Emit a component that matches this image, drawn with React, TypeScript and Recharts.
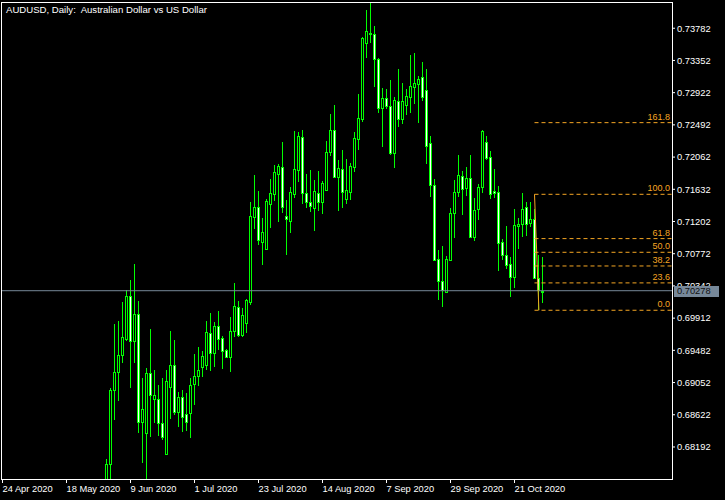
import React from 'react';
import { ComposedChart, Bar, XAxis, YAxis, ReferenceLine } from 'recharts';

// AUDUSD daily candles, bar index counted from 24 Apr 2020
const firstIndex = 26;

const opens = [
  0.6764, 0.67961, 0.68949, 0.69189, 0.69416, 0.69629, 0.70203, 0.69603, 0.69963, 0.68529,
  0.68374, 0.69175, 0.68828, 0.68828, 0.68508, 0.68094, 0.68997, 0.69282, 0.68663, 0.68855,
  0.68628, 0.68641, 0.69029, 0.69135, 0.69256, 0.69282, 0.69709, 0.69451, 0.69803, 0.69643,
  0.69483, 0.69389, 0.69736, 0.70057, 0.69683, 0.69843, 0.70134, 0.71266, 0.71396, 0.70932,
  0.70839, 0.7144, 0.71573, 0.7184, 0.71926, 0.71271, 0.71213, 0.71573, 0.71894, 0.72326,
  0.71578, 0.71458, 0.71386, 0.71578, 0.71466, 0.71627, 0.72126, 0.7242, 0.718, 0.71899,
  0.71506, 0.716, 0.71934, 0.72307, 0.72574, 0.73581, 0.73714, 0.73701, 0.73367, 0.72713,
  0.72847, 0.72748, 0.72121, 0.72807, 0.72566, 0.72753, 0.7286, 0.73002, 0.73034, 0.73127,
  0.72954, 0.72246, 0.71685, 0.70697, 0.70414, 0.70265, 0.70688, 0.71311, 0.716, 0.71805,
  0.71645, 0.71779, 0.70999, 0.71365, 0.71667, 0.72263, 0.72063, 0.71609, 0.71596, 0.70928,
  0.70755, 0.70635, 0.70465, 0.71142, 0.71165, 0.71396, 0.71178, 0.71229, 0.70454, 0.70265,
];
const highs = [
  0.68031, 0.68975, 0.69834, 0.69874, 0.70127, 0.70284, 0.70421, 0.70635, 0.70141, 0.69113,
  0.69246, 0.69767, 0.6922, 0.69019, 0.69113, 0.6922, 0.6974, 0.6962, 0.68926, 0.68953,
  0.68908, 0.69113, 0.69433, 0.69523, 0.69473, 0.69874, 0.6998, 0.6986, 0.70007, 0.69677,
  0.69496, 0.69927, 0.70381, 0.70137, 0.70047, 0.70163, 0.71462, 0.71823, 0.71609, 0.71249,
  0.71502, 0.71769, 0.71956, 0.7197, 0.72263, 0.71489, 0.71659, 0.7241, 0.72397, 0.72424,
  0.71836, 0.7189, 0.71756, 0.71876, 0.71739, 0.72277, 0.72637, 0.72757, 0.72023, 0.72157,
  0.72036, 0.71979, 0.72397, 0.72904, 0.7366, 0.74026, 0.74123, 0.73812, 0.73381, 0.7298,
  0.72967, 0.73091, 0.72868, 0.73238, 0.73047, 0.72975, 0.73425, 0.73451, 0.73144, 0.73331,
  0.73238, 0.72343, 0.71765, 0.70822, 0.70875, 0.70741, 0.71382, 0.71756, 0.72086, 0.71876,
  0.7193, 0.72086, 0.71516, 0.71703, 0.72424, 0.72343, 0.72143, 0.71903, 0.71676, 0.70968,
  0.71142, 0.70728, 0.71369, 0.71249, 0.71582, 0.71462, 0.71462, 0.71369, 0.70751, 0.70728,
];
const lows = [
  0.6755, 0.677, 0.68552, 0.6881, 0.69309, 0.69611, 0.68975, 0.69317, 0.68383, 0.67982,
  0.677, 0.68329, 0.68516, 0.68338, 0.68285, 0.68094, 0.68569, 0.68623, 0.68463, 0.68396,
  0.68409, 0.68316, 0.68756, 0.69006, 0.6913, 0.6922, 0.6921, 0.69264, 0.69487, 0.69229,
  0.69376, 0.69197, 0.69664, 0.69656, 0.69656, 0.69718, 0.70087, 0.71102, 0.70888, 0.70621,
  0.70835, 0.71119, 0.7148, 0.71199, 0.7132, 0.70759, 0.71053, 0.7152, 0.71733, 0.71432,
  0.71386, 0.71333, 0.71079, 0.71346, 0.71306, 0.71613, 0.7208, 0.718, 0.71346, 0.71386,
  0.71436, 0.71489, 0.71867, 0.72157, 0.72534, 0.73389, 0.73581, 0.73002, 0.72646, 0.72201,
  0.727, 0.7209, 0.71912, 0.72468, 0.72504, 0.72624, 0.72655, 0.72771, 0.72521, 0.72811,
  0.71974, 0.71533, 0.70679, 0.70154, 0.70057, 0.70252, 0.70682, 0.70986, 0.71525, 0.71289,
  0.71542, 0.70986, 0.70946, 0.71222, 0.71578, 0.72023, 0.71498, 0.71512, 0.70545, 0.70688,
  0.70568, 0.70198, 0.70318, 0.70839, 0.70999, 0.71012, 0.71133, 0.70444, 0.70017, 0.7011,
];
const closes = [
  0.67961, 0.68949, 0.69189, 0.69416, 0.69656, 0.70203, 0.69603, 0.69963, 0.68529, 0.68695,
  0.69175, 0.68882, 0.68882, 0.68508, 0.68329, 0.69069, 0.69282, 0.68663, 0.68855, 0.68596,
  0.68529, 0.69015, 0.69135, 0.69216, 0.69402, 0.69723, 0.69451, 0.69803, 0.69629, 0.69469,
  0.69389, 0.69736, 0.7007, 0.69683, 0.6995, 0.7015, 0.71275, 0.71396, 0.70959, 0.71058,
  0.71472, 0.71578, 0.71859, 0.71939, 0.714, 0.71231, 0.71592, 0.71899, 0.72339, 0.71587,
  0.71466, 0.71413, 0.71605, 0.71466, 0.71712, 0.72126, 0.7242, 0.718, 0.71912, 0.71592,
  0.71622, 0.71947, 0.72317, 0.7258, 0.73648, 0.73741, 0.73709, 0.73367, 0.72713, 0.72847,
  0.72744, 0.72121, 0.7282, 0.72566, 0.72807, 0.72873, 0.73007, 0.73047, 0.731, 0.72868,
  0.72214, 0.71683, 0.70688, 0.70412, 0.70288, 0.70697, 0.71311, 0.71596, 0.71819, 0.71632,
  0.71779, 0.70999, 0.71356, 0.71659, 0.7241, 0.7205, 0.71573, 0.71578, 0.70919, 0.70755,
  0.70621, 0.70465, 0.71155, 0.71169, 0.71369, 0.71173, 0.71235, 0.70452, 0.70294, 0.70278,
];

const dateTicks = [0, 16, 32, 48, 64, 80, 96, 112, 128];
const dateLabels = [
  '24 Apr 2020', '18 May 2020', '9 Jun 2020', '1 Jul 2020', '23 Jul 2020',
  '14 Aug 2020', '7 Sep 2020', '29 Sep 2020', '21 Oct 2020',
];
const priceTicks = [
  0.68192, 0.68622, 0.69052, 0.69482, 0.69912, 0.70342, 0.70772,
  0.71202, 0.71632, 0.72062, 0.72492, 0.72922, 0.73352, 0.73782,
];
const lastPrice = 0.70278;

const fibRatios = [0, 23.6, 38.2, 50, 61.8, 100, 161.8];
const fibLow = 0.70017;
const fibHigh = 0.71565;
const fibFrom = 133;
const fibTo = 134.1;

const xMin = -0.375;
const xMax = 167.375;
const yMin = 0.677644;
const yMax = 0.741323;

// plot box (matches the chart margins below)
const PLOT_TOP = 2;
const PLOT_H = 477;
const PLOT_RIGHT = 672;

const GREEN = '#00ff00';
const FIB = '#f5a623';
const FONT = '"Liberation Sans", Arial, sans-serif';

const data = opens.map((o, k) => ({
  i: firstIndex + k,
  open: o,
  high: highs[k],
  low: lows[k],
  close: closes[k],
  range: [lows[k], highs[k]],
}));

function Candle(props: any) {
  const { x, y, width, height, payload } = props;
  if (x == null || y == null || !payload) return null;
  const cx = Math.floor(x + width / 2);
  const { open, close, high, low } = payload;
  const span = high - low || 1e-9;
  const toY = (v: number) => y + ((high - v) / span) * height;
  const wTop = Math.round(y);
  const wBot = Math.round(y + height);
  const top = Math.round(toY(Math.max(open, close)));
  const bot = Math.round(toY(Math.min(open, close)));
  const bull = close >= open;
  return (
    <g shapeRendering="crispEdges">
      <rect x={cx} y={wTop} width={1} height={Math.max(wBot - wTop, 1)} fill={GREEN} />
      <rect x={cx - 1} y={top} width={3} height={Math.max(bot - top + 1, 1)} fill={GREEN} />
      {bot - top >= 2 && (
        <rect x={cx} y={top + 1} width={1} height={bot - top - 1} fill={bull ? '#000' : '#fff'} />
      )}
    </g>
  );
}

function DateTick(props: any) {
  const { x, y, payload } = props;
  const k = dateTicks.indexOf(payload.value);
  return (
    <text x={x} y={y} dy={7} textAnchor="start" fill="#fff" fontSize={9.3} fontFamily={FONT}>
      {dateLabels[k]}
    </text>
  );
}

function FibLabel({ text }: { text: string }) {
  return (props: any) => {
    const vb = props.viewBox;
    if (!vb) return null;
    return (
      <text x={vb.x + vb.width - 2} y={vb.y - 3} textAnchor="end" fill={FIB} fontSize={9} fontFamily={FONT}>
        {text}
      </text>
    );
  };
}

export default function App() {
  const tagY = Math.round(PLOT_TOP + ((yMax - lastPrice) / (yMax - yMin)) * PLOT_H);
  return (
    <div style={{ position: 'fixed', left: 0, top: 0, width: 725, height: 500, background: '#000', overflow: 'hidden' }}>
      <ComposedChart width={725} height={500} data={data} margin={{ top: PLOT_TOP, right: 0, bottom: 0, left: 1 }}>
        <XAxis
          dataKey="i"
          type="number"
          domain={[xMin, xMax]}
          allowDataOverflow
          ticks={dateTicks}
          interval={0}
          height={21}
          axisLine={false}
          tickLine={{ stroke: '#fff' }}
          tickSize={4}
          tickMargin={2}
          tick={<DateTick />}
        />
        <YAxis
          orientation="right"
          type="number"
          domain={[yMin, yMax]}
          allowDataOverflow
          ticks={priceTicks}
          interval={0}
          width={53}
          axisLine={false}
          tickLine={{ stroke: '#fff' }}
          tickSize={3}
          tickMargin={2}
          tickFormatter={(v: number) => v.toFixed(5)}
          tick={{ fill: '#fff', fontSize: 9.3, fontFamily: FONT, textAnchor: 'start' }}
        />
        <Bar dataKey="range" barSize={3} isAnimationActive={false} shape={(p: any) => <Candle {...p} />} />
        <ReferenceLine y={lastPrice} stroke="#778899" />
        {fibRatios.map((r) => {
          const lvl = fibLow + (r / 100) * (fibHigh - fibLow);
          return (
            <ReferenceLine
              key={r}
              segment={[{ x: fibFrom, y: lvl }, { x: xMax, y: lvl }]}
              stroke={FIB}
              strokeDasharray="4 3"
              label={FibLabel({ text: r.toFixed(1) })}
            />
          );
        })}
        <ReferenceLine
          segment={[{ x: fibFrom, y: fibHigh }, { x: fibTo, y: fibLow }]}
          stroke={FIB}
        />
      </ComposedChart>
      <div
        style={{
          position: 'absolute', left: 1, top: PLOT_TOP, width: PLOT_RIGHT, height: PLOT_H + 1,
          boxSizing: 'border-box', border: '1px solid #fff', pointerEvents: 'none',
        }}
      />
      <div
        style={{
          position: 'absolute', left: PLOT_RIGHT + 2, top: tagY - 5, width: 45, height: 11,
          background: '#778899', color: '#111', fontFamily: FONT, fontSize: 9.3,
          lineHeight: '11px', paddingLeft: 3, boxSizing: 'border-box',
        }}
      >
        {lastPrice.toFixed(5)}
      </div>
      <div
        style={{
          position: 'absolute', left: 6, top: 4, color: '#fff', fontFamily: FONT,
          fontSize: 9.6, lineHeight: '12px', whiteSpace: 'pre',
        }}
      >
        {'AUDUSD, Daily:  Australian Dollar vs US Dollar'}
      </div>
    </div>
  );
}
